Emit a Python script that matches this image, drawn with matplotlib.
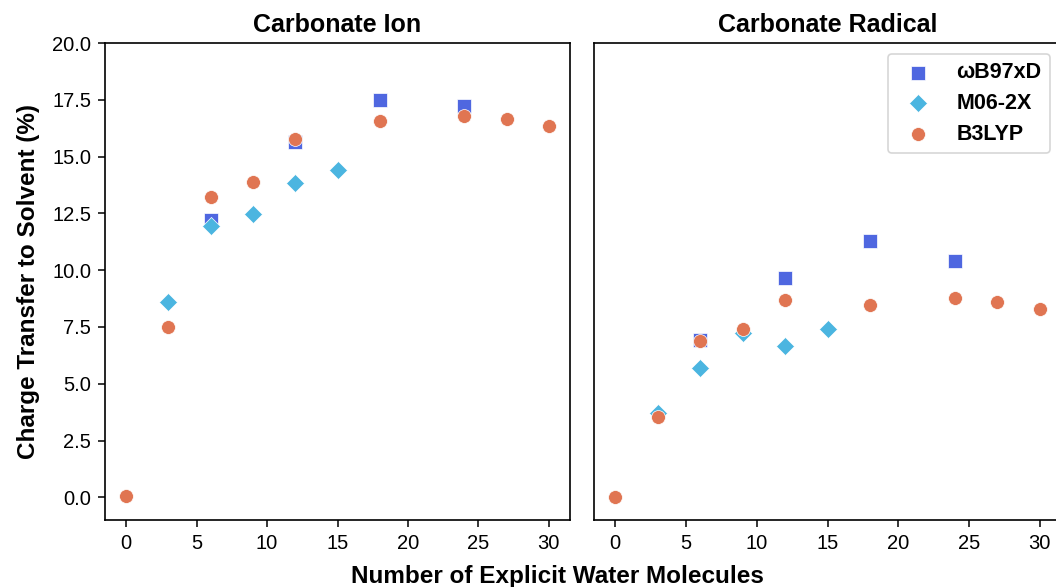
import numpy as np
import matplotlib.pyplot as plt

plt.rcParams['font.family'] = ['Liberation Sans', 'DejaVu Sans']

# carbonate ion
ion_wb_x = [6, 12, 18, 24]
ion_wb_y = [12.2, 15.65, 17.5, 17.22]
ion_m06_x = [3, 6, 9, 12, 15]
ion_m06_y = [8.6, 11.95, 12.45, 13.82, 14.39]
ion_b3_x = [0, 3, 6, 9, 12, 18, 24, 27, 30]
ion_b3_y = [0.05, 7.5, 13.2, 13.88, 15.77, 16.58, 16.78, 16.67, 16.36]

# carbonate radical
rad_wb_x = [6, 12, 18, 24]
rad_wb_y = [6.92, 9.66, 11.29, 10.41]
rad_m06_x = [3, 6, 9, 12, 15]
rad_m06_y = [3.71, 5.68, 7.24, 6.67, 7.39]
rad_b3_x = [0, 3, 6, 9, 12, 18, 24, 27, 30]
rad_b3_y = [0.0, 3.54, 6.86, 7.39, 8.68, 8.46, 8.78, 8.58, 8.31]

c_wb = '#4f67e0'
c_m06 = '#4bb5e0'
c_b3 = '#e07552'

fig = plt.figure(figsize=(10.56, 5.87), dpi=100)
ax1 = fig.add_axes([105/1056, 1-520/587, 465/1056, 477/587])
ax2 = fig.add_axes([594/1056, 1-520/587, 467/1056, 477/587], sharey=ax1)

def draw(ax, wx, wy, mx, my, bx, by):
    ax.scatter(wx, wy, marker='s', s=100, color=c_wb, edgecolor='white', linewidth=0.5, label='ωB97xD', zorder=3)
    ax.scatter(mx, my, marker='D', s=85, color=c_m06, edgecolor='white', linewidth=0.5, label='M06-2X', zorder=3)
    ax.scatter(bx, by, marker='o', s=100, color=c_b3, edgecolor='white', linewidth=0.5, label='B3LYP', zorder=3)
    ax.set_xlim(-1.5, 31.5)
    ax.set_xticks([0, 5, 10, 15, 20, 25, 30])
    ax.tick_params(labelsize=14.5, length=5, width=1.1, pad=5)
    for s in ax.spines.values():
        s.set_linewidth(1.2)

draw(ax1, ion_wb_x, ion_wb_y, ion_m06_x, ion_m06_y, ion_b3_x, ion_b3_y)
draw(ax2, rad_wb_x, rad_wb_y, rad_m06_x, rad_m06_y, rad_b3_x, rad_b3_y)

ax1.set_ylim(-1, 20)
ax1.set_yticks(np.arange(0, 20.1, 2.5))
ax1.yaxis.set_major_formatter(plt.FormatStrFormatter('%.1f'))
plt.setp(ax2.get_yticklabels(), visible=False)
ax2.tick_params(axis='y', left=False)

ax1.set_title('Carbonate Ion', fontsize=18, fontweight='bold', pad=8)
ax2.set_title('Carbonate Radical', fontsize=18, fontweight='bold', pad=8)
ax1.set_ylabel('Charge Transfer to Solvent (%)', fontsize=17.5, fontweight='bold', labelpad=9)

fig.text(557/1056, 1-576/587, 'Number of Explicit Water Molecules', fontsize=17.5,
         fontweight='bold', ha='center', va='center')

leg = ax2.legend(loc='upper right', bbox_to_anchor=(1.0, 1.0), prop={'size': 15.5, 'weight': 'bold'},
                 borderpad=0.4, labelspacing=0.45, handletextpad=0.8)
leg.get_frame().set_edgecolor('#cccccc')
leg.get_frame().set_linewidth(1.2)

fig.savefig('out.png', dpi=100)
